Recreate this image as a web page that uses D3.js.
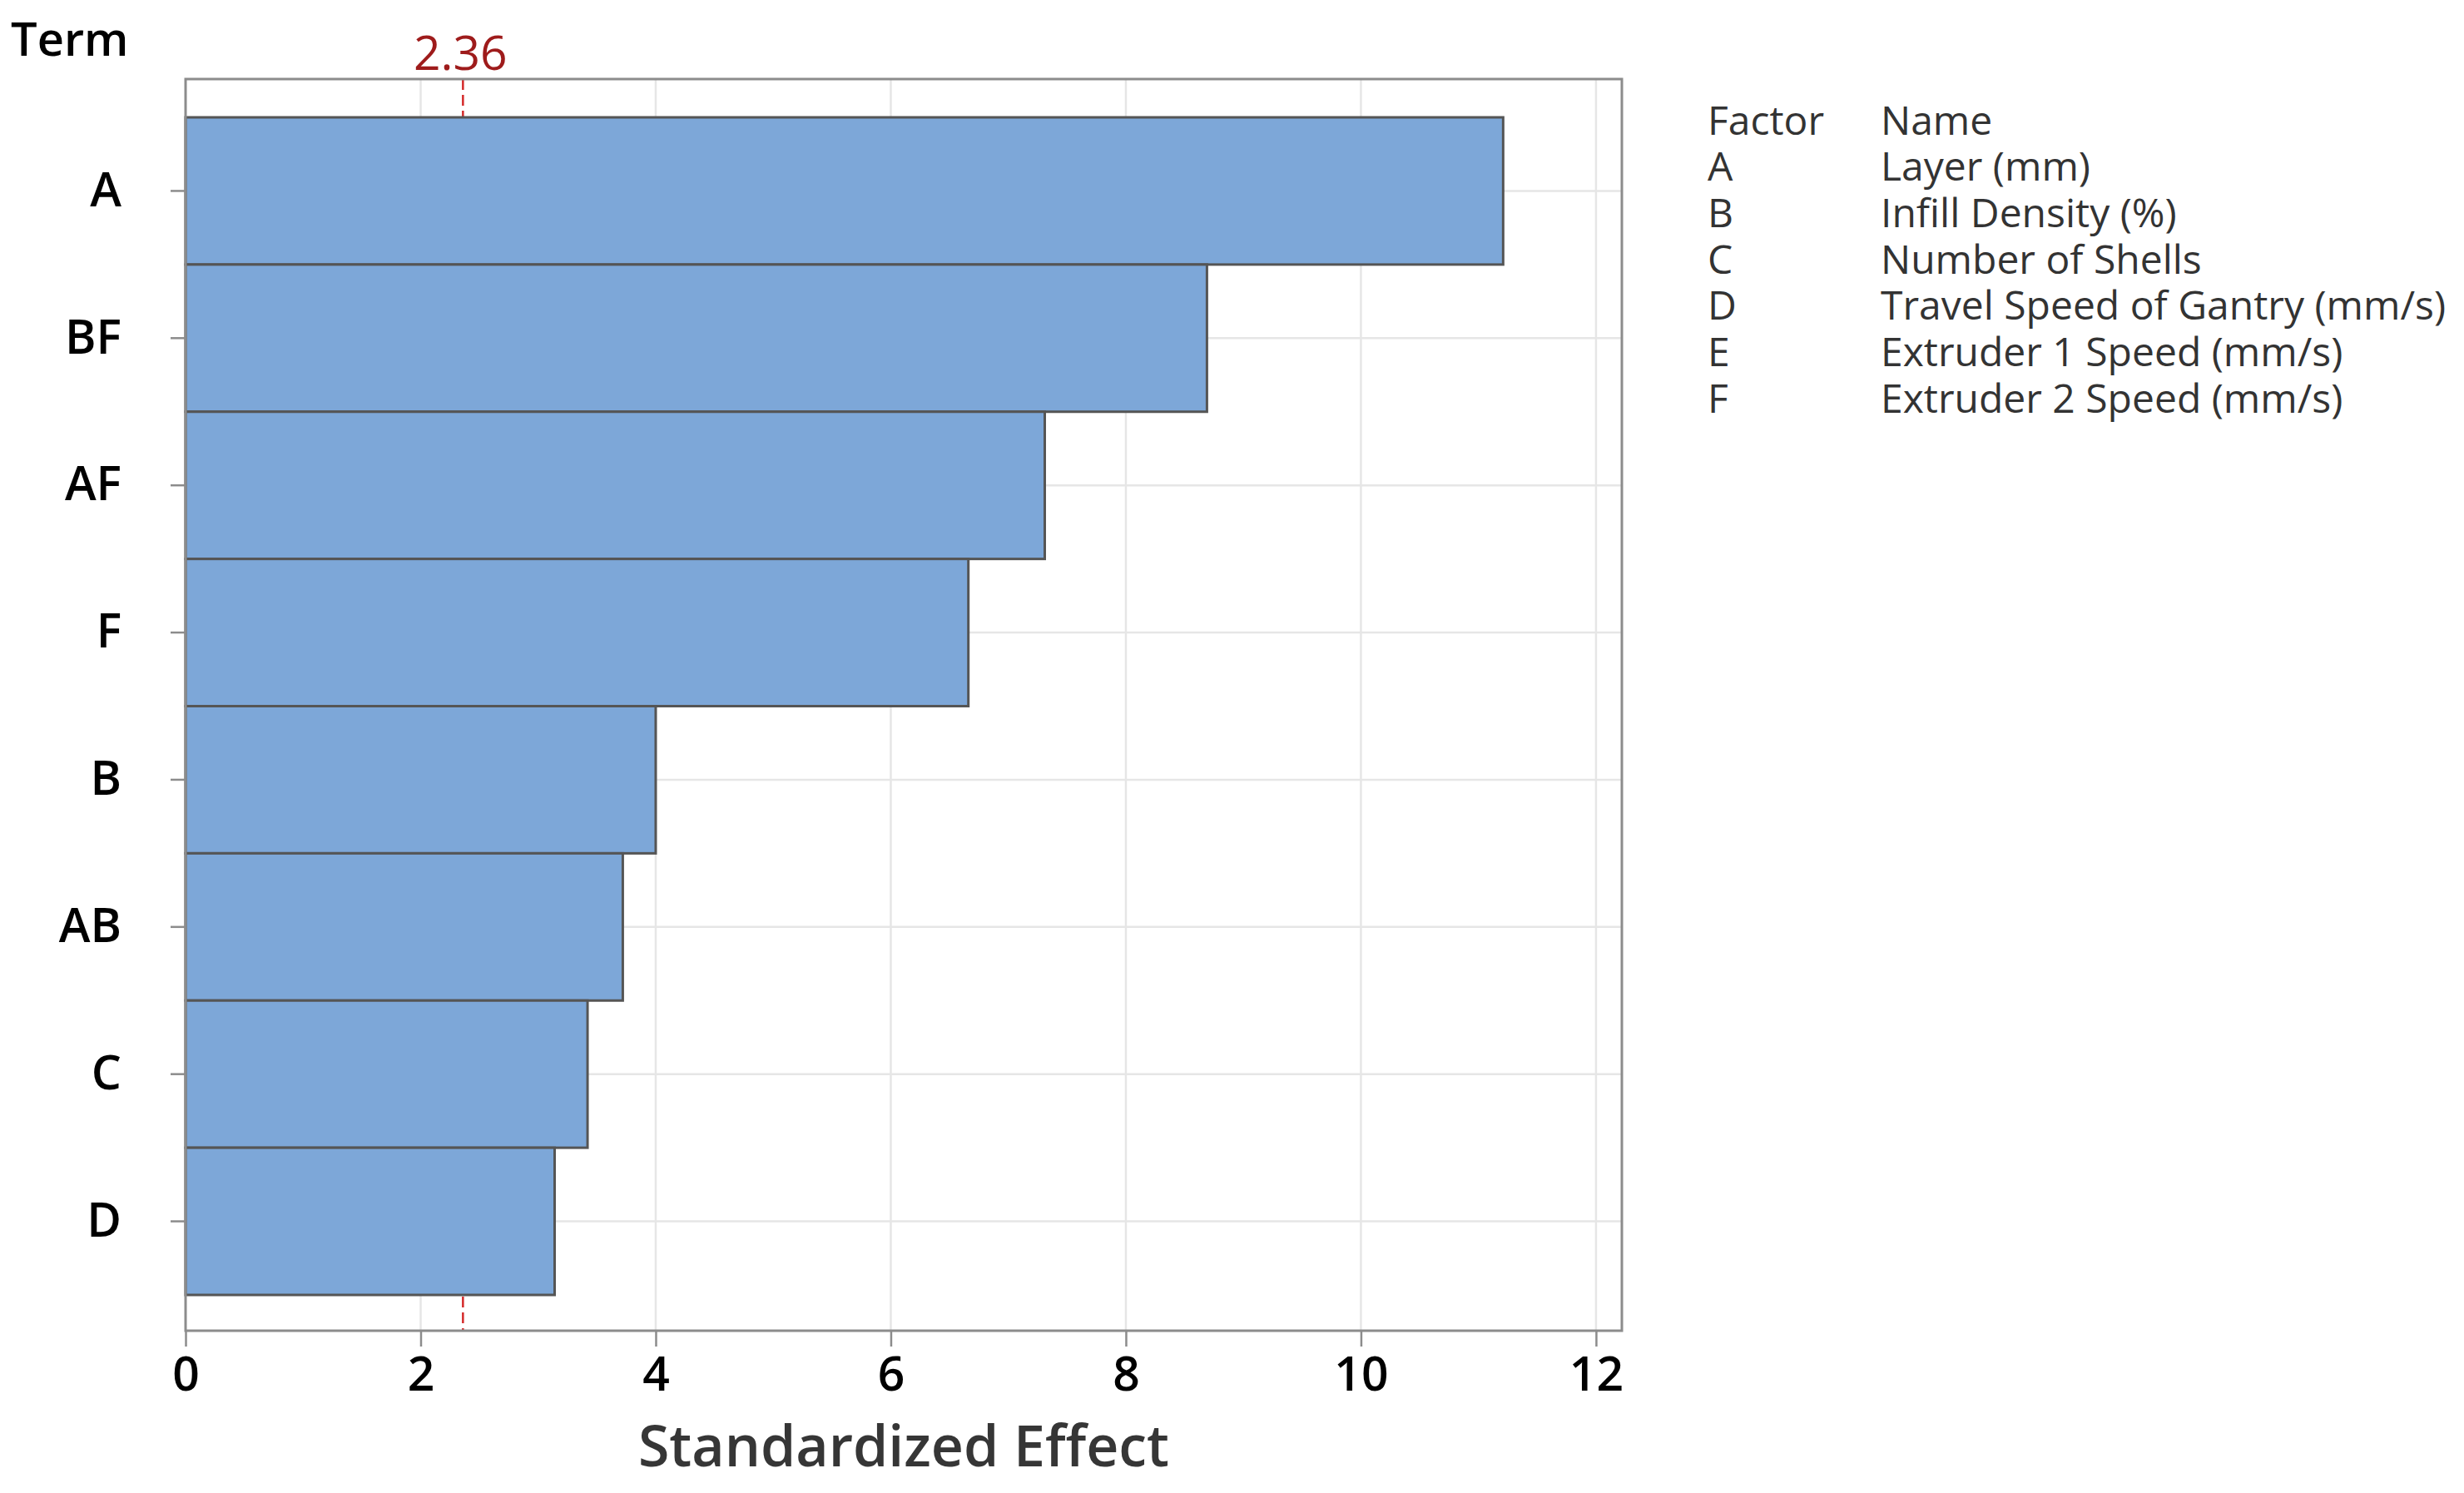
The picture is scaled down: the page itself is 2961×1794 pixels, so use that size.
<!DOCTYPE html>
<html>
<head>
<meta charset="utf-8">
<script src="https://cdn.jsdelivr.net/npm/d3@7"></script>
<style>
  body { margin: 0; background: #fff; }
  text { font-family: "Open Sans", "Noto Sans", sans-serif; }
</style>
</head>
<body>
<svg></svg>
<script>
const width = 2961;
const height = 1794;

// chart values
const terms = ['A', 'BF', 'AF', 'F', 'B', 'AB', 'C', 'D'];
const effects = [11.21, 8.69, 7.31, 6.66, 4.00, 3.72, 3.42, 3.14];
const xTicks = [0, 2, 4, 6, 8, 10, 12];
const criticalValue = 2.36;
const factors = ['A', 'B', 'C', 'D', 'E', 'F'];
const factorNames = [
    'Layer (mm)',
    'Infill Density (%)',
    'Number of Shells',
    'Travel Speed of Gantry (mm/s)',
    'Extruder 1 Speed (mm/s)',
    'Extruder 2 Speed (mm/s)'
];

const plot = { left: 223, right: 1949, top: 95, bottom: 1599 };

const data = terms.map((t, i) => ({ term: t, effect: effects[i] }));

const xScale = d3.scaleLinear()
    .domain([0, 12.22])
    .range([plot.left, plot.right]);

const yScale = d3.scaleBand()
    .domain(terms)
    .range([141, 1556])
    .padding(0);

const svg = d3.select('svg')
    .attr('width', width)
    .attr('height', height);

// grid
svg.append('g')
    .selectAll('line')
    .data(xTicks.filter((d) => d > 0))
    .enter()
    .append('line')
        .attr('x1', (d) => xScale(d))
        .attr('x2', (d) => xScale(d))
        .attr('y1', plot.top)
        .attr('y2', plot.bottom)
        .attr('stroke', '#e6e6e6')
        .attr('stroke-width', 2.5);

svg.append('g')
    .selectAll('line')
    .data(terms)
    .enter()
    .append('line')
        .attr('x1', plot.left)
        .attr('x2', plot.right)
        .attr('y1', (d) => yScale(d) + yScale.bandwidth() / 2)
        .attr('y2', (d) => yScale(d) + yScale.bandwidth() / 2)
        .attr('stroke', '#e6e6e6')
        .attr('stroke-width', 2.5);

// reference line
svg.append('line')
    .attr('x1', xScale(criticalValue))
    .attr('x2', xScale(criticalValue))
    .attr('y1', plot.top)
    .attr('y2', plot.bottom)
    .attr('stroke', '#d42a2a')
    .attr('stroke-width', 2.5)
    .attr('stroke-dasharray', '13,6');

// bars
svg.append('g')
    .selectAll('rect')
    .data(data)
    .enter()
    .append('rect')
        .attr('x', xScale(0))
        .attr('y', (d) => yScale(d.term))
        .attr('width', (d) => xScale(d.effect) - xScale(0))
        .attr('height', yScale.bandwidth())
        .attr('fill', '#7da7d8')
        .attr('stroke', '#555')
        .attr('stroke-width', 3);

// frame
svg.append('rect')
    .attr('x', plot.left)
    .attr('y', plot.top)
    .attr('width', plot.right - plot.left)
    .attr('height', plot.bottom - plot.top)
    .attr('fill', 'none')
    .attr('stroke', '#8c8c8c')
    .attr('stroke-width', 3);

// axes
const xAxis = d3.axisBottom(xScale)
    .tickValues(xTicks)
    .tickSize(19)
    .tickPadding(13)
    .tickSizeOuter(0);

const yAxis = d3.axisLeft(yScale)
    .tickSize(18)
    .tickPadding(59)
    .tickSizeOuter(0);

const gx = svg.append('g')
    .attr('transform', `translate(0, ${plot.bottom})`)
    .call(xAxis);

const gy = svg.append('g')
    .attr('transform', `translate(${plot.left}, 0)`)
    .call(yAxis);

[gx, gy].forEach((g) => {
    g.select('.domain').remove();
    g.selectAll('.tick line').attr('stroke', '#8c8c8c').attr('stroke-width', 2.5);
    g.selectAll('.tick text')
        .attr('fill', '#000')
        .style('font-size', '57px')
        .style('font-weight', 600)
        .style('font-family', '"Open Sans", sans-serif');
});

// labels
svg.append('text')
    .attr('x', 13)
    .attr('y', 67)
    .style('font-size', '56px')
    .style('font-weight', 600)
    .attr('fill', '#000')
    .text('Term');

svg.append('text')
    .attr('x', xScale(criticalValue) - 3)
    .attr('y', 84)
    .style('text-anchor', 'middle')
    .style('font-size', '57px')
    .style('font-weight', 500)
    .attr('fill', '#9e1b1b')
    .text(criticalValue.toFixed(2));

svg.append('text')
    .attr('x', (plot.left + plot.right) / 2)
    .attr('y', 1762)
    .style('text-anchor', 'middle')
    .style('font-size', '68px')
    .style('font-weight', 600)
    .attr('fill', '#363636')
    .text('Standardized Effect');

// factor legend
const legend = svg.append('g')
    .attr('fill', '#333')
    .style('font-size', '48px');

legend.append('text')
    .attr('x', 2052)
    .attr('y', 162)
    .text('Factor');

legend.append('text')
    .attr('x', 2260)
    .attr('y', 162)
    .text('Name');

legend.selectAll('.factor')
    .data(factors)
    .enter()
    .append('text')
        .attr('class', 'factor')
        .attr('x', 2052)
        .attr('y', (d, i) => 217 + i * 55.8)
        .text((d) => d);

legend.selectAll('.fname')
    .data(factorNames)
    .enter()
    .append('text')
        .attr('class', 'fname')
        .attr('x', 2260)
        .attr('y', (d, i) => 217 + i * 55.8)
        .text((d) => d);
</script>
</body>
</html>
